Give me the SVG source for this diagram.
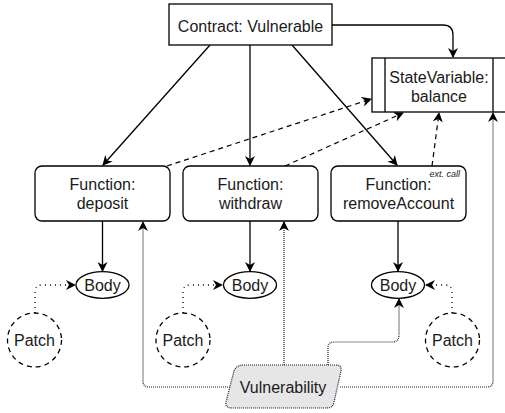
<svg xmlns="http://www.w3.org/2000/svg" width="505" height="413" viewBox="0 0 505 413">
<style>
text{font-family:"Liberation Sans",Arial,sans-serif;font-size:16px;fill:#1a1a1a;text-anchor:middle}
.box{fill:#fff;stroke:#000;stroke-width:1.3}
.solid{fill:none;stroke:#000;stroke-width:1.3}
.dash{fill:none;stroke:#000;stroke-width:1.2;stroke-dasharray:5 4}
.dot{fill:none;stroke:#1a1a1a;stroke-width:1.2;stroke-dasharray:1 1}
.pdot{fill:none;stroke:#000;stroke-width:1.3;stroke-dasharray:1 4}
.patch{fill:#fff;stroke:#000;stroke-width:1.3;stroke-dasharray:5 4}
</style>
<defs>
<marker id="ah" viewBox="0 0 10 10" refX="9" refY="5" markerWidth="10" markerHeight="10" markerUnits="userSpaceOnUse" orient="auto">
<path d="M0,0 L10,5 L0,10 L3,5 Z" fill="#000"/>
</marker>
</defs>
<g id="connectors">
<path class="solid" d="M210,45 L103,165" marker-end="url(#ah)"/>
<path class="solid" d="M250,45 L250,165" marker-end="url(#ah)"/>
<path class="solid" d="M292,45 L397,165" marker-end="url(#ah)"/>
<path class="solid" d="M332,25 L443,25 Q453,25 453,35 L453,57" marker-end="url(#ah)"/>
<path class="solid" d="M102.5,221 L102.5,271" marker-end="url(#ah)"/>
<path class="solid" d="M250,221 L250,271" marker-end="url(#ah)"/>
<path class="solid" d="M398,221 L398,271" marker-end="url(#ah)"/>
<path class="dash" d="M167,166 L371,99" marker-end="url(#ah)"/>
<path class="dash" d="M285,166 L403,113" marker-end="url(#ah)"/>
<path class="dash" d="M432,166 L439,113" marker-end="url(#ah)"/>
<path class="pdot" d="M35,313 L35,292 Q35,285 42,285 L75,285" marker-end="url(#ah)"/>
<path class="pdot" d="M183,313 L183,292 Q183,285 190,285 L222,285" marker-end="url(#ah)"/>
<path class="pdot" d="M452,313 L452,292 Q452,285 445,285 L426,285" marker-end="url(#ah)"/>
<path class="dot" d="M230,387 L149,387 Q143,387 143,381 L143,222" marker-end="url(#ah)"/>
<path class="dot" d="M284,365 L284,222" marker-end="url(#ah)"/>
<path class="dot" d="M328,365 L328,348 Q328,342 334,342 L392,342 Q399,342 399,335 L399,299" marker-end="url(#ah)"/>
<path class="dot" d="M340,387 L487,387 Q493,387 493,381 L493,113" marker-end="url(#ah)"/>
</g>
<g id="contract">
<rect class="box" x="169" y="4" width="163" height="41"/>
<text x="250.5" y="32">Contract: Vulnerable</text>
</g>
<g id="statevar">
<rect class="box" x="372" y="58" width="140" height="54"/>
<line class="solid" x1="385" y1="58" x2="385" y2="112"/>
<line class="solid" x1="493" y1="58" x2="493" y2="112"/>
<text x="439" y="83">StateVariable:</text>
<text x="439" y="102">balance</text>
</g>
<g id="fn-deposit">
<rect class="box" x="35" y="166" width="135" height="55" rx="7"/>
<text x="102.5" y="190">Function:</text>
<text x="102.5" y="209">deposit</text>
</g>
<g id="fn-withdraw">
<rect class="box" x="183" y="166" width="135" height="55" rx="7"/>
<text x="250.5" y="190">Function:</text>
<text x="250.5" y="209">withdraw</text>
</g>
<g id="fn-remove">
<rect class="box" x="331" y="166" width="135" height="55" rx="7"/>
<text x="398.5" y="190">Function:</text>
<text x="398.5" y="209">removeAccount</text>
<text x="460" y="177" style="font-size:9px;font-style:italic;text-anchor:end">ext. call</text>
</g>
<g id="body-deposit">
<ellipse class="box" cx="102.5" cy="285" rx="26.5" ry="13.3"/>
<text x="102.5" y="291">Body</text>
</g>
<g id="body-withdraw">
<ellipse class="box" cx="250" cy="285" rx="26.5" ry="13.3"/>
<text x="250" y="291">Body</text>
</g>
<g id="body-remove">
<ellipse class="box" cx="398" cy="285" rx="26.5" ry="13.3"/>
<text x="398" y="291">Body</text>
</g>
<g id="patch-deposit">
<circle class="patch" cx="34.5" cy="340" r="27"/>
<text x="34.5" y="346">Patch</text>
</g>
<g id="patch-withdraw">
<circle class="patch" cx="183" cy="340" r="27"/>
<text x="183" y="346">Patch</text>
</g>
<g id="patch-remove">
<circle class="patch" cx="452.5" cy="340" r="27"/>
<text x="452.5" y="346">Patch</text>
</g>
<g id="vulnerability">
<path d="M244,365 L336,365 Q342,365 341,371 L334,402 Q333,408 327,408 L232,408 Q225,408 226,402 L234,371 Q236,365 244,365 Z" fill="#e6e6e6" stroke="#1a1a1a" stroke-width="1.2" stroke-dasharray="1 1"/>
<text x="283" y="393">Vulnerability</text>
</g>
</svg>
